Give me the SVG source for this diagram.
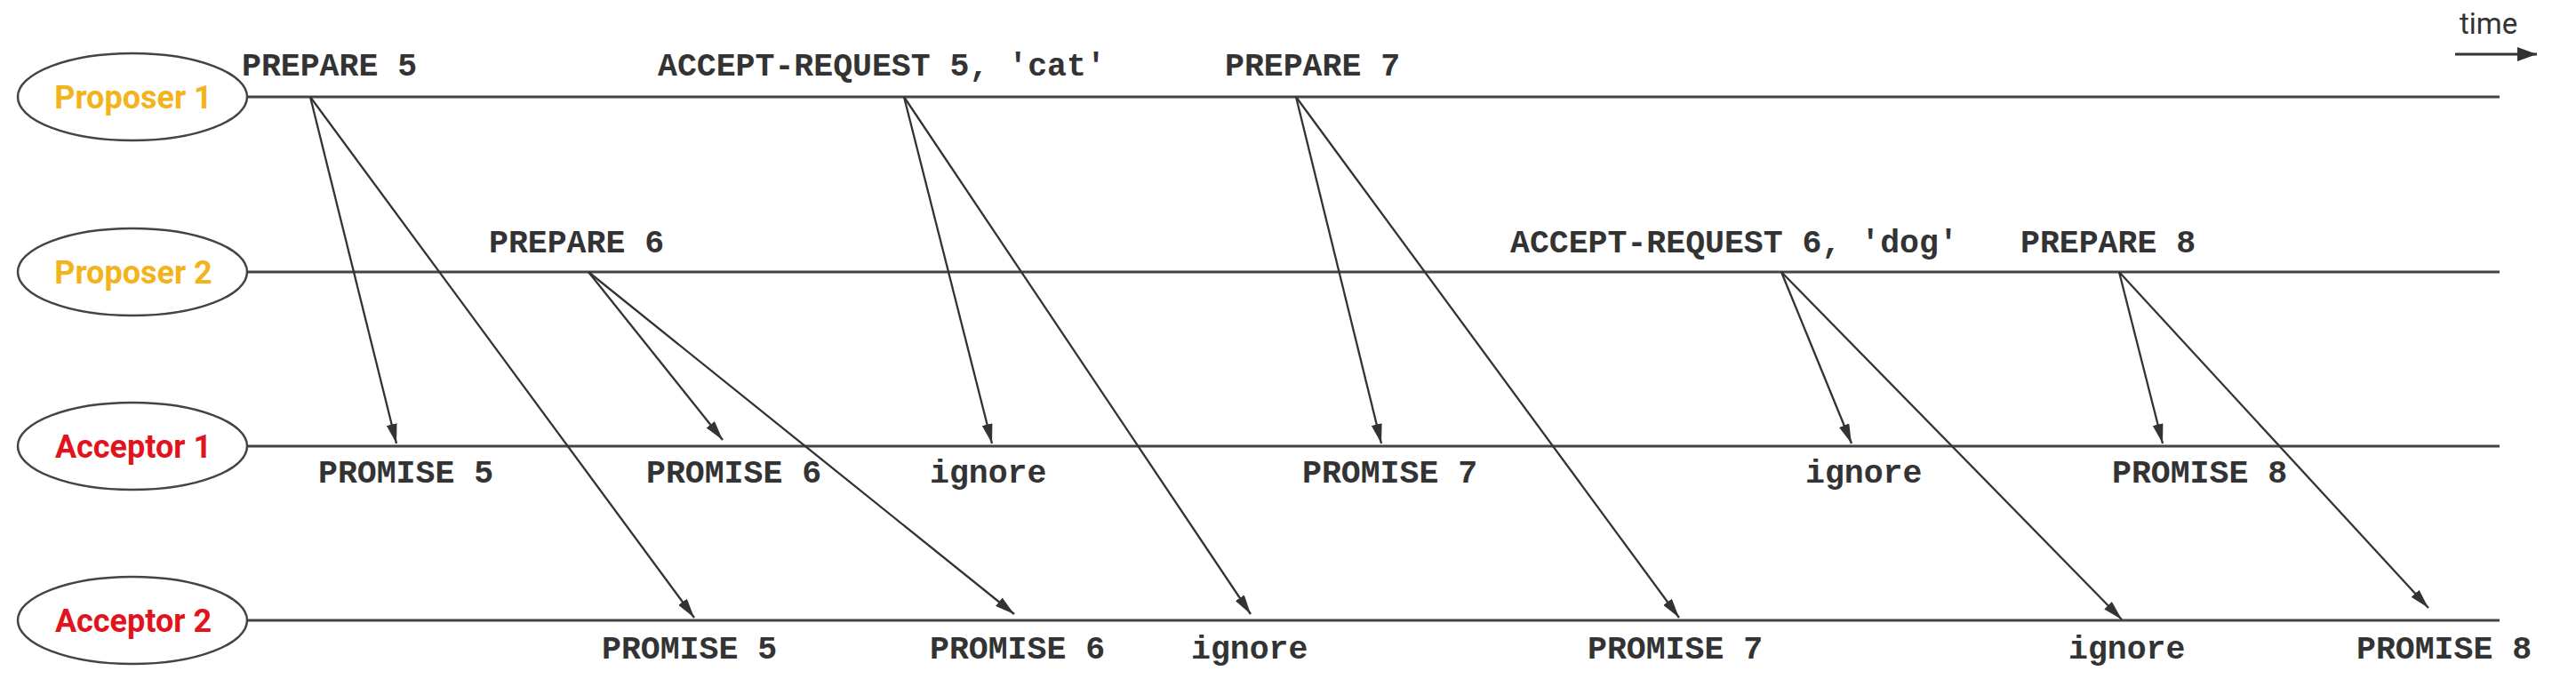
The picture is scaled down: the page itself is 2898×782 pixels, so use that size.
<svg xmlns="http://www.w3.org/2000/svg" width="2898" height="782" viewBox="0 0 2898 782">
<defs>
<style>
.ell{fill:#fff;stroke:#444;stroke-width:2.5}
.tl{stroke:#444;stroke-width:3;fill:none}
.msg{stroke:#333;stroke-width:2.3;fill:none;marker-end:url(#ah)}
.prop{font-family:Roboto,"Liberation Sans",sans-serif;font-weight:bold;font-size:36px;fill:#F2B31B;text-anchor:middle}
.acc{font-family:Roboto,"Liberation Sans",sans-serif;font-weight:bold;font-size:36px;fill:#E3131B;text-anchor:middle}
.mono{font-family:"Liberation Mono","DejaVu Sans Mono",monospace;font-weight:bold;font-size:36.5px;fill:#333}
.time{font-family:Roboto,"Liberation Sans",sans-serif;font-size:33px;fill:#333}
</style>
<marker id="ah" markerUnits="userSpaceOnUse" markerWidth="22" markerHeight="12" refX="22" refY="6" orient="auto">
<path d="M0,0 L22,6 L0,12 z" fill="#333"/>
</marker>
<marker id="ah2" markerUnits="userSpaceOnUse" markerWidth="22" markerHeight="16" refX="22" refY="8" orient="auto">
<path d="M0,0 L22,8 L0,16 z" fill="#333"/>
</marker>
</defs>
<rect width="2898" height="782" fill="#fff"/>

<g id="proposer1">
<line class="tl" x1="278" y1="109" x2="2812" y2="109"/>
<ellipse class="ell" cx="149" cy="109" rx="129" ry="49"/>
<text class="prop" x="150" y="122">Proposer 1</text>
</g>
<g id="proposer2">
<line class="tl" x1="278" y1="306" x2="2812" y2="306"/>
<ellipse class="ell" cx="149" cy="306" rx="129" ry="49"/>
<text class="prop" x="150" y="319">Proposer 2</text>
</g>
<g id="acceptor1">
<line class="tl" x1="278" y1="502" x2="2812" y2="502"/>
<ellipse class="ell" cx="149" cy="502" rx="129" ry="49"/>
<text class="acc" x="150" y="515">Acceptor 1</text>
</g>
<g id="acceptor2">
<line class="tl" x1="278" y1="698" x2="2812" y2="698"/>
<ellipse class="ell" cx="149" cy="698" rx="129" ry="49"/>
<text class="acc" x="150" y="711">Acceptor 2</text>
</g>

<g id="time">
<text class="time" x="2767" y="38">time</text>
<line x1="2762" y1="61" x2="2854" y2="61" stroke="#333" stroke-width="3" marker-end="url(#ah2)"/>
</g>

<g id="connectors">
<line class="msg" x1="349" y1="109" x2="446" y2="499"/>
<line class="msg" x1="349" y1="109" x2="781" y2="695"/>
<line class="msg" x1="1017" y1="109" x2="1116" y2="499"/>
<line class="msg" x1="1017" y1="109" x2="1407" y2="691"/>
<line class="msg" x1="1458" y1="109" x2="1554" y2="499"/>
<line class="msg" x1="1458" y1="109" x2="1889" y2="695"/>
<line class="msg" x1="662" y1="306" x2="813" y2="495"/>
<line class="msg" x1="662" y1="306" x2="1141" y2="691"/>
<line class="msg" x1="2004" y1="306" x2="2083" y2="499"/>
<line class="msg" x1="2004" y1="306" x2="2387" y2="697"/>
<line class="msg" x1="2384" y1="306" x2="2433" y2="499"/>
<line class="msg" x1="2384" y1="306" x2="2732" y2="684"/>
</g>

<g id="labels">
<text class="mono" x="272" y="85">PREPARE 5</text>
<text class="mono" x="740" y="85">ACCEPT-REQUEST 5, 'cat'</text>
<text class="mono" x="1378" y="85">PREPARE 7</text>
<text class="mono" x="550" y="284">PREPARE 6</text>
<text class="mono" x="1699" y="284">ACCEPT-REQUEST 6, 'dog'</text>
<text class="mono" x="2273" y="284">PREPARE 8</text>
<text class="mono" x="358" y="543">PROMISE 5</text>
<text class="mono" x="727" y="543">PROMISE 6</text>
<text class="mono" x="1046" y="543">ignore</text>
<text class="mono" x="1465" y="543">PROMISE 7</text>
<text class="mono" x="2031" y="543">ignore</text>
<text class="mono" x="2376" y="543">PROMISE 8</text>
<text class="mono" x="677" y="741">PROMISE 5</text>
<text class="mono" x="1046" y="741">PROMISE 6</text>
<text class="mono" x="1340" y="741">ignore</text>
<text class="mono" x="1786" y="741">PROMISE 7</text>
<text class="mono" x="2327" y="741">ignore</text>
<text class="mono" x="2651" y="741">PROMISE 8</text>
</g>
</svg>
